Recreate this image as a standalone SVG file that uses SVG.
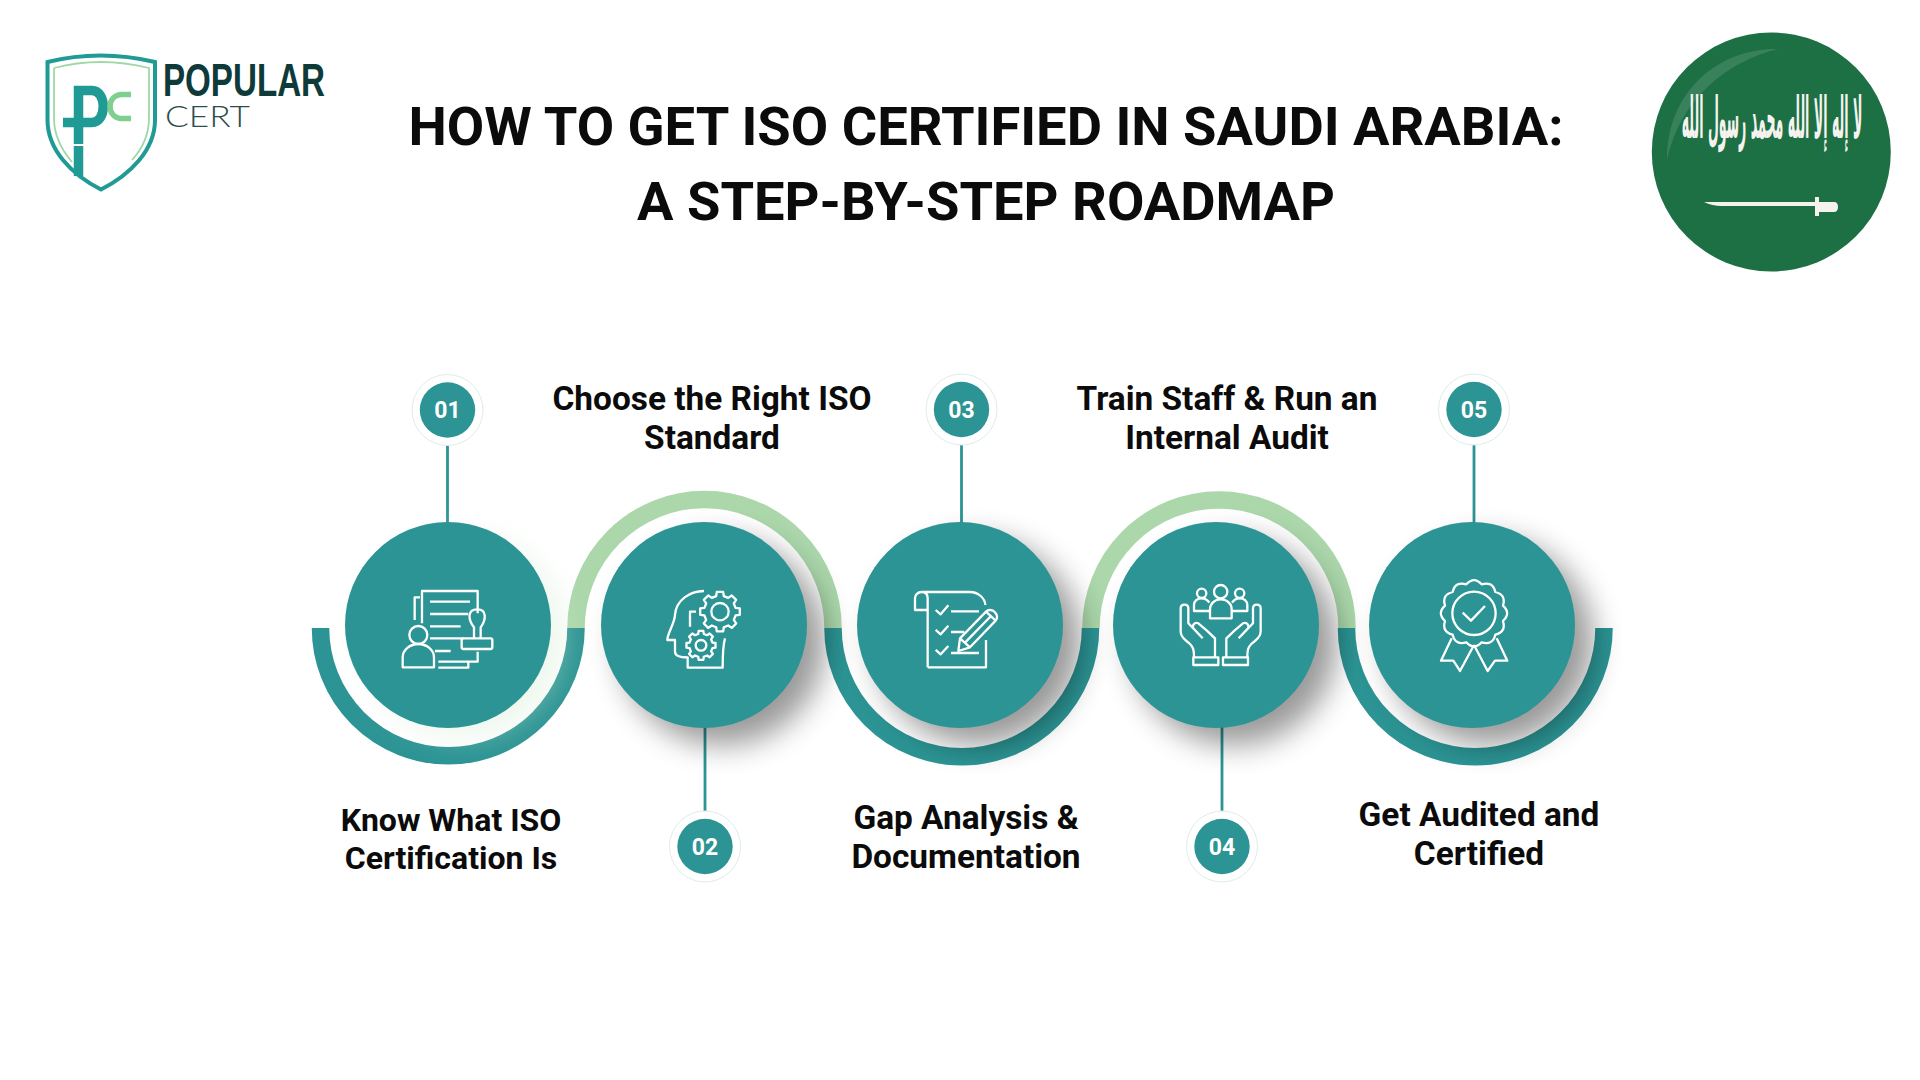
<svg xmlns="http://www.w3.org/2000/svg" width="1920" height="1080" viewBox="0 0 1920 1080">
<style>
text{font-family:Roboto,"Liberation Sans",sans-serif;font-weight:700;fill:#0b0b0b;text-anchor:middle}
.title{font-size:54.300px}
.lab{font-size:33.400px}
.lab1{font-size:32px}
.num{font-size:23px;fill:#fff}
.low{fill:none;stroke:#2c9494;stroke-width:17.500}
.up{fill:none;stroke:#abd7ab;stroke-width:17.500}
.conn{stroke:#2c9494;stroke-width:2.800;fill:none}
.disc{fill:#2c9494}
.ring{fill:#fff;stroke:#deecea;stroke-width:1}
.ic{fill:none;stroke:#fff;stroke-width:2.300;stroke-linejoin:round}
.ic *{vector-effect:non-scaling-stroke}
</style>
<defs>
<filter id="blur" x="-40%" y="-40%" width="180%" height="180%"><feGaussianBlur stdDeviation="15"/></filter>
<polygon id="gear" vector-effect="non-scaling-stroke" points="99,16 78,19 69,41 81,59 59,81 41,69 19,78 16,99 -16,99 -19,78 -41,69 -59,81 -81,59 -69,41 -78,19 -99,16 -99,-16 -78,-19 -69,-41 -81,-59 -59,-81 -41,-69 -19,-78 -16,-99 16,-99 19,-78 41,-69 59,-81 81,-59 69,-41 78,-19 99,-16"/>
<g id="handL">
<path vector-effect="non-scaling-stroke" d="M62 115C62 100 85 100 85 115V160L128 205M62 115V185C62 200 75 210 90 222C100 232 102 240 102 262M100 175C95 165 105 155 115 160C130 172 150 190 165 205V262M100 175L128 205"/>
<rect vector-effect="non-scaling-stroke" x="100" y="262" width="75" height="23"/>
<circle vector-effect="non-scaling-stroke" cx="125" cy="70" r="14"/>
<path vector-effect="non-scaling-stroke" d="M150 123H102V105C102 92 112 85 125 85C135 85 143 90 148 98"/>
</g>
</defs>

<g id="logo">
<path d="M47.500 62Q100 49 155 62V120C155 150 130 175 101 189.500C72 175 47.500 150 47.500 120Z" fill="#fff" stroke="#1f9a95" stroke-width="4"/>
<path d="M54 68Q100 56 149 68V118C149 135 143 148 132 160M54 68V118C54 135 60 148 72 162" fill="none" stroke="#9fd8a6" stroke-width="1.800"/>
<path d="M78.500 144V90.500H92C107 90.500 107 122.500 92 122.500H63" fill="none" stroke="#1f9a95" stroke-width="9.500"/>
<path d="M78.500 146V176" fill="none" stroke="#1f9a95" stroke-width="9.500"/>
<path d="M131 94.500H122C106 94.500 106 118.500 122 118.500H131" fill="none" stroke="#7fcf8f" stroke-width="5.500"/>
<text x="163" y="96" textLength="162" lengthAdjust="spacingAndGlyphs" style="font-family:'Liberation Sans Narrow','Liberation Sans',sans-serif;font-size:46px;fill:#0e3a3a;text-anchor:start;font-weight:700">POPULAR</text>
<text x="165" y="126.500" textLength="85" lengthAdjust="spacingAndGlyphs" style="font-family:Lato,sans-serif;font-size:30px;font-weight:300;fill:#2e4c4c;text-anchor:start">CERT</text>
</g>

<g id="flag">
<circle cx="1771.300" cy="152" r="119.500" fill="#1d7044"/>
<path d="M1667 160C1667 90 1720 48 1778 49C1725 62 1680 100 1667 160Z" fill="#fff" opacity=".12"/>
<text transform="translate(1772 138) scale(.217 1)" style="font-family:'DejaVu Sans',sans-serif;font-size:58px;fill:#f6f3ef">لا إله إلا الله محمد رسول الله</text>
<path d="M1704 202H1815V197H1819V202H1834Q1838 202 1838 207Q1838 212 1834 212H1819V216H1815V206H1722Q1712 206 1704 202Z" fill="#f6f3ef"/>
</g>

<g id="heading">
<text class="title" x="986" y="145">HOW TO GET ISO CERTIFIED IN SAUDI ARABIA:</text>
<text class="title" x="986" y="220">A STEP-BY-STEP ROADMAP</text>
</g>

<g id="connectors">
<path class="low" d="M320.500 628A127.750 127.750 0 0 0 576 628"/>
<path class="up" d="M576 628A128.500 128.500 0 0 1 833 628"/>
<path class="low" d="M833 628A128.750 128.750 0 0 0 1090.500 628"/>
<path class="up" d="M1091 628A128 128 0 0 1 1347 628"/>
<path class="low" d="M1346.500 628A128.750 128.750 0 0 0 1604 628"/>
<path class="conn" d="M447.500 440V525"/>
<path class="conn" d="M705 725V815"/>
<path class="conn" d="M961.500 440V525"/>
<path class="conn" d="M1222 725V815"/>
<path class="conn" d="M1474 440V525"/>
</g>

<g id="shadows">
<circle cx="464" cy="636" r="100" fill="#d6ecd6" opacity=".45" filter="url(#blur)"/>
<circle cx="722" cy="642" r="103" fill="#000" opacity=".4" filter="url(#blur)"/>
<circle cx="978" cy="642" r="103" fill="#000" opacity=".4" filter="url(#blur)"/>
<circle cx="1234" cy="642" r="103" fill="#000" opacity=".4" filter="url(#blur)"/>
<circle cx="1490" cy="642" r="103" fill="#000" opacity=".4" filter="url(#blur)"/>
</g>

<g id="step1">
<circle class="disc" cx="448" cy="625" r="103"/>
<g class="ic" transform="translate(400 570) scale(.3333)">
<path d="M66 160V63H233V130M60 82H44V150M90 95H210M90 132H205M90 169H182M90 205H190M105 243H152M233 245V275H205V293H115M115 275H205"/>
<path d="M222 205V172C205 150 200 118 232 118C262 118 258 150 242 172V205"/>
<rect x="185" y="205" width="92" height="32" rx="5"/>
<circle cx="55" cy="195" r="27"/>
<path d="M8 292V262C8 240 30 222 55 222C80 222 102 240 102 262V292Z"/>
</g>
<circle class="ring" cx="447.500" cy="410" r="35.500"/><circle class="disc" cx="447.500" cy="410" r="27.700"/>
<text class="num" x="447.500" y="418">01</text>
<text class="lab1" x="451" y="831">Know What ISO</text><text class="lab1" x="451" y="869">Certification Is</text>
</g>

<g id="step2">
<circle class="disc" cx="704" cy="625" r="103"/>
<g class="ic" transform="translate(650 570) scale(.3333)">
<path d="M162 63C120 63 78 90 75 135C74 160 50 195 52 210H75V245C75 258 90 262 113 262V293H218C218 250 218 230 225 205M120 170V125H138"/>
<use href="#gear" transform="translate(210 125) scale(.6)"/><circle cx="210" cy="125" r="26"/>
<use href="#gear" transform="translate(153 226) scale(.44)"/><circle cx="153" cy="226" r="16"/>
</g>
<circle class="ring" cx="705" cy="846.500" r="35.500"/><circle class="disc" cx="705" cy="846.500" r="27.700"/>
<text class="num" x="705" y="854.500">02</text>
<text class="lab" x="712" y="410">Choose the Right ISO</text><text class="lab" x="712" y="449">Standard</text>
</g>

<g id="step3">
<circle class="disc" cx="960" cy="625" r="103"/>
<g class="ic" transform="translate(905 570) scale(.3333)">
<path d="M68 292H243V210M68 292V85C68 72 60 66 50 66C38 66 30 75 30 85V120H68M50 66H195C220 66 240 85 241 105"/>
<path d="M92 120L107 133L130 106M92 180L107 193L130 167M92 240L107 253L130 228M138 124H222M138 186H178M138 249H222"/>
<path d="M160 243L165 205L243 125C250 118 262 118 270 127C278 135 278 146 272 152L195 232ZM165 205L195 232M243 125L272 152M180 218L258 138"/>
</g>
<circle class="ring" cx="961.500" cy="409.500" r="35.500"/><circle class="disc" cx="961.500" cy="409.500" r="27.700"/>
<text class="num" x="961.500" y="417.500">03</text>
<text class="lab" x="966" y="829">Gap Analysis &amp;</text><text class="lab" x="966" y="868">Documentation</text>
</g>

<g id="step4">
<circle class="disc" cx="1216" cy="625" r="103"/>
<g class="ic" transform="translate(1160 570) scale(.3333)">
<circle cx="182" cy="65" r="20"/>
<path d="M150 145V118C150 100 165 88 182 88C200 88 215 100 215 118V145Z"/>
<use href="#handL"/>
<use href="#handL" transform="translate(364 0) scale(-1 1)"/>
</g>
<circle class="ring" cx="1222" cy="846.500" r="35.500"/><circle class="disc" cx="1222" cy="846.500" r="27.700"/>
<text class="num" x="1222" y="854.500">04</text>
<text class="lab" x="1227" y="410">Train Staff &amp; Run an</text><text class="lab" x="1227" y="449">Internal Audit</text>
</g>

<g id="step5">
<circle class="disc" cx="1472" cy="625" r="103"/>
<g class="ic" transform="translate(1415 570) scale(.3333)">
<path transform="translate(177 130)" d="M-23 -87Q0 -112 23 -87Q56 -97 64 -64Q97 -56 87 -23Q112 0 87 23Q97 56 64 64Q56 97 23 87Q0 112 -23 87Q-56 97 -64 64Q-97 56 -87 23Q-112 0 -87 -23Q-97 -56 -64 -64Q-56 -97 -23 -87Z"/>
<circle cx="177" cy="130" r="65"/>
<path d="M143 128L168 152L210 108M110 205L78 272L115 272L135 303L177 225M245 205L277 272L240 272L218 303L177 225"/>
</g>
<circle class="ring" cx="1474" cy="409.500" r="35.500"/><circle class="disc" cx="1474" cy="409.500" r="27.700"/>
<text class="num" x="1474" y="417.500">05</text>
<text class="lab" x="1479" y="826">Get Audited and</text><text class="lab" x="1479" y="865">Certified</text>
</g>
</svg>
